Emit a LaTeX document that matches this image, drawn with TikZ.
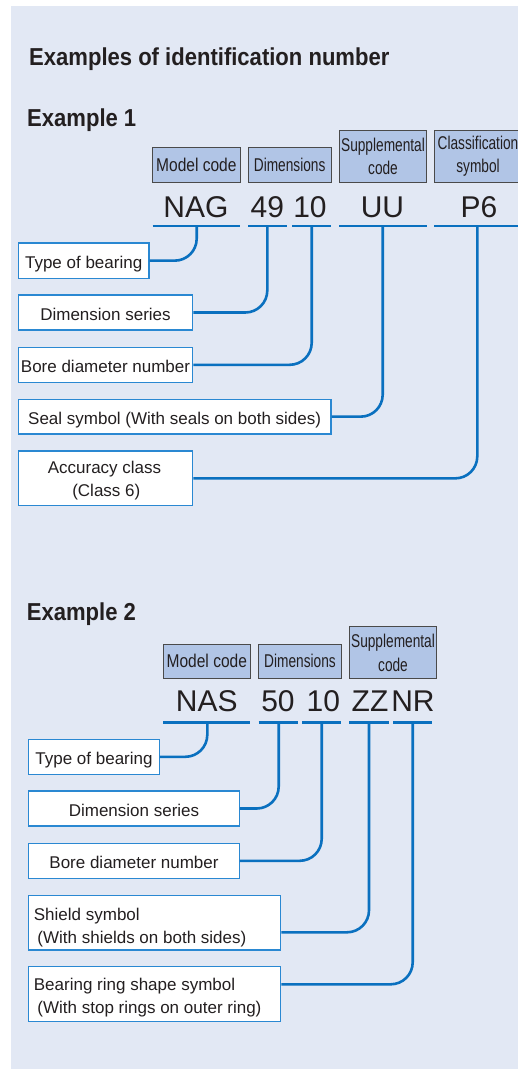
\documentclass[tikz,border=0pt]{standalone}
\usepackage{fontspec}
\setmainfont{Liberation Sans}
\newfontfamily\titlef[FakeStretch=0.9]{Liberation Sans}
\newfontfamily\hdrf[FakeStretch=0.74]{Liberation Sans}
\newfontfamily\hdrwide[FakeStretch=0.84]{Liberation Sans}
\usetikzlibrary{calc}
\definecolor{bgc}{HTML}{E2E8F4}
\definecolor{hdrfill}{HTML}{B1C5E6}
\definecolor{hdrline}{HTML}{4A4A4A}
\definecolor{lblline}{HTML}{2A88D2}
\definecolor{connc}{HTML}{0A70BF}
\definecolor{txtc}{HTML}{231F20}
\begin{document}
\begin{tikzpicture}[x=1pt,y=-1pt,
  hdr/.style={draw=hdrline, fill=hdrfill, line width=0.9pt, inner sep=0pt, align=center,
    font=\hdrf\fontsize{18.5}{23.6}\selectfont, text=txtc},
  hdrw/.style={hdr, font=\hdrwide\fontsize{18.5}{23.6}\selectfont},
  lbl/.style={draw=lblline, fill=white, line width=1.2pt, inner sep=0pt,
    font=\fontsize{17}{23}\selectfont, text=txtc, text height=16pt, text depth=1pt},
  lbltext/.style={inner sep=0pt, font=\fontsize{17}{23}\selectfont, text=txtc},
  codetxt/.style={anchor=base, inner sep=0pt, font=\fontsize{30}{30}\selectfont, text=txtc},
  heading/.style={anchor=base west, inner sep=0pt, font=\titlef\bfseries\fontsize{24.5}{28}\selectfont, text=txtc},
  uline/.style={draw=connc, line width=2.4pt},
  conn/.style={draw=connc, line width=2.6pt, rounded corners=22pt}
]
\useasboundingbox (0,0) rectangle (518,1069);
\fill[bgc] (11,6) rectangle (530,1069);

% ---------- titles ----------
\node[heading] (title) at (29,65) {Examples of identification number};
\node[heading] (ex1) at (27,126) {Example 1};
\node[heading] (ex2) at (26.7,620) {Example 2};

% ---------- Example 1 ----------
\node[hdrw, minimum width=87.3, minimum height=35.4] (mc1) at (196.35,165) {Model code};
\node[hdr, minimum width=82.7, minimum height=35.4] (dm1) at (289.65,165) {Dimensions};
\node[hdr, minimum width=87.4, minimum height=52.7] (sc1) at (383,156.35) {Supplemental\\code};
\node[hdr, minimum width=87.4, minimum height=52.7] (cs1) at (478,156.35) {Classification\\symbol};

\node[codetxt] (nag) at (196,217) {NAG};
\node[codetxt] (n49) at (267.3,217) {49};
\node[codetxt] (n10a) at (310,217) {10};
\node[codetxt] (uu) at (382.5,217) {UU};
\node[codetxt] (p6) at (479,217) {P6};

\draw[uline] (152.7,225.7) -- (240,225.7);
\draw[uline] (248.3,225.7) -- (287.3,225.7);
\draw[uline] (292.3,225.7) -- (331,225.7);
\draw[uline] (339.3,225.7) -- (426.7,225.7);
\draw[uline] (434.3,225.7) -- (530,225.7);

\coordinate (a1) at (196.7,225.7);
\coordinate (a2) at (267.3,225.7);
\coordinate (a3) at (311.7,225.7);
\coordinate (a4) at (382.7,225.7);
\coordinate (a5) at (477.3,225.7);

\node[lbl, minimum width=130.7, minimum height=35.3] (tob1) at (83.65,260.65) {Type of bearing};
\node[lbl, minimum width=174.4, minimum height=35] (ds1) at (105.5,312.5) {Dimension series};
\node[lbl, minimum width=174.4, minimum height=35] (bd1) at (105.5,364.8) {Bore diameter number};
\node[lbl, minimum width=312.7, minimum height=34.7] (ss1) at (174.65,416.65) {Seal symbol (With seals on both sides)};
\node[lbl, minimum width=174.4, minimum height=54.7] (ac1) at (105.5,478.35) {};
\node[lbltext, anchor=base] (ac1a) at (104.5,473.3) {Accuracy class};
\node[lbltext, anchor=base] (ac1b) at (106.3,496.7) {(Class 6)};

\draw[conn] (a1) |- (tob1.east);
\draw[conn] (a2) |- (ds1.east);
\draw[conn] (a3) |- (bd1.east);
\draw[conn] (a4) |- (ss1.east);
\draw[conn] (a5) |- (ac1.east);

% ---------- Example 2 ----------
\node[hdrw, minimum width=87, minimum height=34.7] (mc2) at (206.8,661.35) {Model code};
\node[hdr, minimum width=82.6, minimum height=34.7] (dm2) at (300,661.35) {Dimensions};
\node[hdr, minimum width=87.4, minimum height=52] (sc2) at (393,652.7) {Supplemental\\code};

\node[codetxt] (nas) at (206.7,711.7) {NAS};
\node[codetxt] (n50) at (278,711.7) {50};
\node[codetxt] (n10b) at (323.3,711.7) {10};
\node[codetxt] (zz) at (370,711.7) {ZZ};
\node[codetxt] (nr) at (413,711.7) {NR};

\draw[uline] (163.3,722.3) -- (250.3,722.3);
\draw[uline] (258.7,722.3) -- (297.7,722.3);
\draw[uline] (302,722.3) -- (341,722.3);
\draw[uline] (349.3,722.3) -- (389,722.3);
\draw[uline] (393.3,722.3) -- (432.3,722.3);

\coordinate (b1) at (207.3,722.3);
\coordinate (b2) at (278.7,722.3);
\coordinate (b3) at (321.7,722.3);
\coordinate (b4) at (369,722.3);
\coordinate (b5) at (412.7,722.3);

\node[lbl, minimum width=130.6, minimum height=35] (tob2) at (94,756.8) {Type of bearing};
\node[lbl, minimum width=210.6, minimum height=35] (ds2) at (134,808.5) {Dimension series};
\node[lbl, minimum width=210.6, minimum height=35] (bd2) at (134,860.8) {Bore diameter number};
\node[lbl, minimum width=252, minimum height=54.3] (sh2) at (154.7,922.85) {};
\node[lbltext, anchor=base west] (sh2a) at (33.7,920.5) {Shield symbol};
\node[lbltext, anchor=base west] (sh2b) at (37.3,943.5) {(With shields on both sides)};
\node[lbl, minimum width=252, minimum height=55] (br2) at (154.7,994.2) {};
\node[lbltext, anchor=base west] (br2a) at (33.7,990) {Bearing ring shape symbol};
\node[lbltext, anchor=base west] (br2b) at (37.3,1013) {(With stop rings on outer ring)};

\draw[conn] (b1) |- (tob2.east);
\draw[conn] (b2) |- (ds2.east);
\draw[conn] (b3) |- (bd2.east);
\draw[conn] (b4) |- ($(sh2.east)+(0,9.45)$);
\draw[conn] (b5) |- ($(br2.east)+(0,-9.9)$);
\end{tikzpicture}
\end{document}
